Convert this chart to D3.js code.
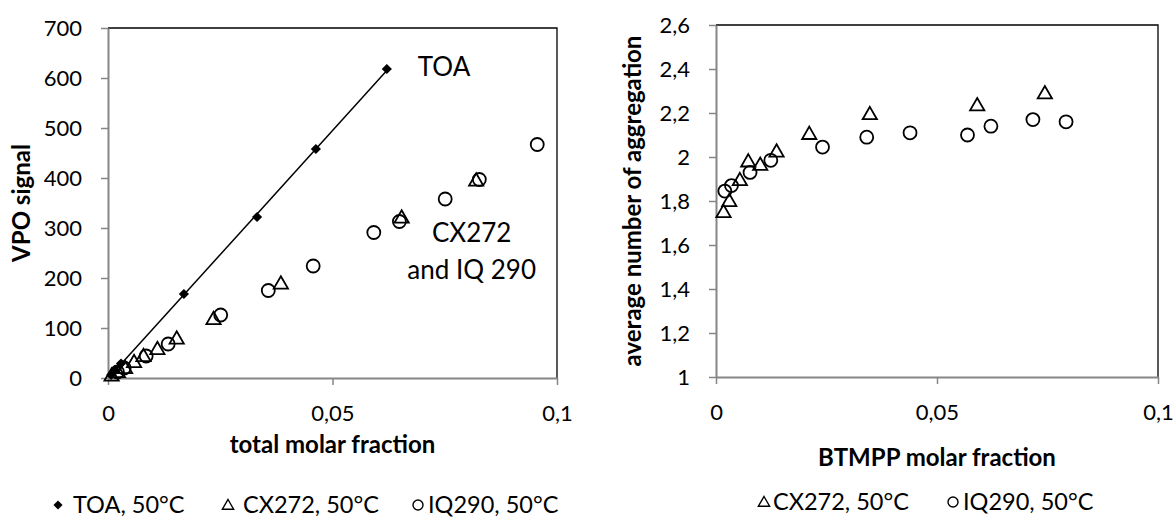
<!DOCTYPE html>
<html><head><meta charset="utf-8">
<script src="https://cdn.jsdelivr.net/npm/d3@7"></script>
<style>
body{margin:0;background:#fff}
svg{display:block}
text{font-family:Lato,"Open Sans",sans-serif;fill:#000}
</style>
</head><body>
<svg id="c" width="1174" height="517"></svg>
<script>
// ---- data: left chart (VPO signal vs total molar fraction) ----
const toaX  = [0.0007, 0.0016, 0.0029, 0.0169, 0.0332, 0.0463, 0.0621];
const toaY  = [6, 15, 29, 168, 322, 458, 618];
const cxLX  = [0.0008, 0.0022, 0.0038, 0.0058, 0.0079, 0.0110, 0.0153, 0.0235, 0.0385, 0.0654, 0.0820];
const cxLY  = [5, 12, 20, 32, 44, 58, 79, 118, 189, 321, 395];
const iqLX  = [0.0021, 0.0036, 0.0085, 0.0134, 0.0251, 0.0357, 0.0457, 0.0592, 0.0649, 0.0751, 0.0827, 0.0956];
const iqLY  = [12, 20, 44, 68, 126, 175, 224, 291, 313, 358, 397, 467];
// ---- data: right chart (aggregation number vs BTMPP molar fraction) ----
const cxRX  = [0.0017, 0.0030, 0.0054, 0.0073, 0.0100, 0.0137, 0.0211, 0.0348, 0.0591, 0.0744];
const cxRY  = [1.75, 1.80, 1.895, 1.98, 1.965, 2.025, 2.105, 2.195, 2.235, 2.29];
const iqRX  = [0.0020, 0.0035, 0.0077, 0.0124, 0.0241, 0.0341, 0.0439, 0.0569, 0.0622, 0.0717, 0.0792];
const iqRY  = [1.845, 1.87, 1.93, 1.985, 2.045, 2.09, 2.11, 2.10, 2.14, 2.17, 2.16];
// ---- ticks / labels ----
const xTicks  = [0, 0.05, 0.1];
const yTicksL = [0, 100, 200, 300, 400, 500, 600, 700];
const yTicksR = [1, 1.2, 1.4, 1.6, 1.8, 2, 2.2, 2.4, 2.6];
const legendL = ["TOA, 50°C", "CX272, 50°C", "IQ290, 50°C"];
const legendR = ["CX272, 50°C", "IQ290, 50°C"];

const loc = d3.formatLocale({decimal: ",", thousands: ".", grouping: [3], currency: ["", "€"]});
const fmt = loc.format("~g");
const svg = d3.select("#c");
const AX = "#868686";

function panel(box, xDom, yDom, yTicks, xTitle, yTitle, xTitleY, yTitleX) {
  const x = d3.scaleLinear().domain(xDom).range([box.x0, box.x1]);
  const y = d3.scaleLinear().domain(yDom).range([box.y1, box.y0]);
  const g = svg.append("g");
  g.append("path").attr("d", `M${box.x0},${box.y0}H${box.x1}V${box.y1}`)
    .attr("fill", "none").attr("stroke", "#000").attr("stroke-width", 1.3);
  const ya = g.append("g").attr("transform", `translate(${box.x0},0)`)
    .call(d3.axisLeft(y).tickValues(yTicks).tickFormat(fmt).tickSize(7).tickPadding(19).tickSizeOuter(0));
  const xa = g.append("g").attr("transform", `translate(0,${box.y1})`)
    .call(d3.axisBottom(x).tickValues(xTicks).tickFormat(fmt).tickSize(7).tickSizeOuter(0));
  [ya, xa].forEach(a => {
    a.select(".domain").attr("stroke", AX).attr("stroke-width", 2);
    a.selectAll(".tick line").attr("stroke", AX).attr("stroke-width", 1.5);
    a.selectAll("text").attr("font-size", 22).attr("fill", "#000")
      .style("font-family", "Lato, 'Open Sans', sans-serif");
  });
  ya.selectAll("text").attr("dy", "0.36em");
  xa.selectAll("text").attr("y", 43).attr("dy", 0);
  g.append("text").attr("x", (box.x0 + box.x1) / 2).attr("y", xTitleY)
    .attr("text-anchor", "middle").attr("font-size", 24).attr("font-weight", "bold").text(xTitle);
  g.append("text").attr("transform", `translate(${yTitleX},${(box.y0 + box.y1) / 2}) rotate(-90)`)
    .attr("text-anchor", "middle").attr("font-size", 24).attr("font-weight", "bold").text(yTitle);
  return {x, y, g};
}

const tri = d3.symbol().type(d3.symbolTriangle).size(88);
const dia = d3.symbol().type(d3.symbolSquare).size(52);

function triangles(p, xs, ys) {
  p.g.append("g").selectAll("path").data(xs.map((v, i) => [v, ys[i]])).join("path")
    .attr("d", tri).attr("transform", d => `translate(${p.x(d[0])},${p.y(d[1]) + 1})`)
    .attr("fill", "none").attr("stroke", "#000").attr("stroke-width", 1.8);
}
function circles(p, xs, ys) {
  p.g.append("g").selectAll("circle").data(xs.map((v, i) => [v, ys[i]])).join("circle")
    .attr("cx", d => p.x(d[0])).attr("cy", d => p.y(d[1])).attr("r", 6.5)
    .attr("fill", "none").attr("stroke", "#000").attr("stroke-width", 1.8);
}

// ---- left panel ----
const L = panel({x0: 108, x1: 557, y0: 28, y1: 378}, [0, 0.1], [0, 700], yTicksL,
  "total molar fraction", "VPO signal", 453, 30);
const mx = d3.mean(toaX), my = d3.mean(toaY);
const slope = d3.sum(toaX, (v, i) => (v - mx) * (toaY[i] - my)) / d3.sum(toaX, v => (v - mx) ** 2);
const icpt = my - slope * mx;
const ext = d3.extent(toaX);
L.g.append("line").attr("x1", L.x(ext[0])).attr("y1", L.y(icpt + slope * ext[0]))
  .attr("x2", L.x(ext[1])).attr("y2", L.y(icpt + slope * ext[1]))
  .attr("stroke", "#000").attr("stroke-width", 1.5);
triangles(L, cxLX, cxLY);
circles(L, iqLX, iqLY);
L.g.append("g").selectAll("path").data(toaX.map((v, i) => [v, toaY[i]])).join("path")
  .attr("d", dia).attr("transform", d => `translate(${L.x(d[0])},${L.y(d[1])}) rotate(45)`)
  .attr("fill", "#000");
const ann = L.g.append("g").style("font-family", "'Liberation Sans', Arial, sans-serif").attr("font-size", 26);
ann.append("text").attr("x", L.x(0.0690)).attr("y", L.y(605)).text("TOA");
ann.append("text").attr("x", L.x(0.0810)).attr("y", L.y(272)).attr("text-anchor", "middle").text("CX272");
ann.append("text").attr("x", L.x(0.0810)).attr("y", L.y(198)).attr("text-anchor", "middle").text("and IQ 290");

// ---- right panel ----
const R = panel({x0: 716, x1: 1158, y0: 25, y1: 377}, [0, 0.1], [1, 2.6], yTicksR,
  "BTMPP molar fraction", "average number of aggregation", 466, 641);
triangles(R, cxRX, cxRY);
circles(R, iqRX, iqRY);

// ---- legends ----
function legendItem(kind, cx, tx, by, label) {
  const cy = by - 8;
  if (kind === "dia") svg.append("path").attr("d", d3.symbol().type(d3.symbolSquare).size(42))
      .attr("transform", `translate(${cx},${cy}) rotate(45)`).attr("fill", "#000");
  if (kind === "tri") svg.append("path").attr("d", d3.symbol().type(d3.symbolTriangle).size(55))
      .attr("transform", `translate(${cx},${cy + 1})`).attr("fill", "none").attr("stroke", "#000").attr("stroke-width", 1.4);
  if (kind === "cir") svg.append("circle").attr("cx", cx).attr("cy", cy).attr("r", 5)
      .attr("fill", "none").attr("stroke", "#000").attr("stroke-width", 1.4);
  svg.append("text").attr("x", tx).attr("y", by).attr("font-size", 23.5).text(label);
}
legendItem("dia", 58, 73, 513, legendL[0]);
legendItem("tri", 228, 243, 513, legendL[1]);
legendItem("cir", 418, 428, 513, legendL[2]);
legendItem("tri", 764, 773, 510, legendR[0]);
legendItem("cir", 953, 963, 510, legendR[1]);
</script>
</body></html>
